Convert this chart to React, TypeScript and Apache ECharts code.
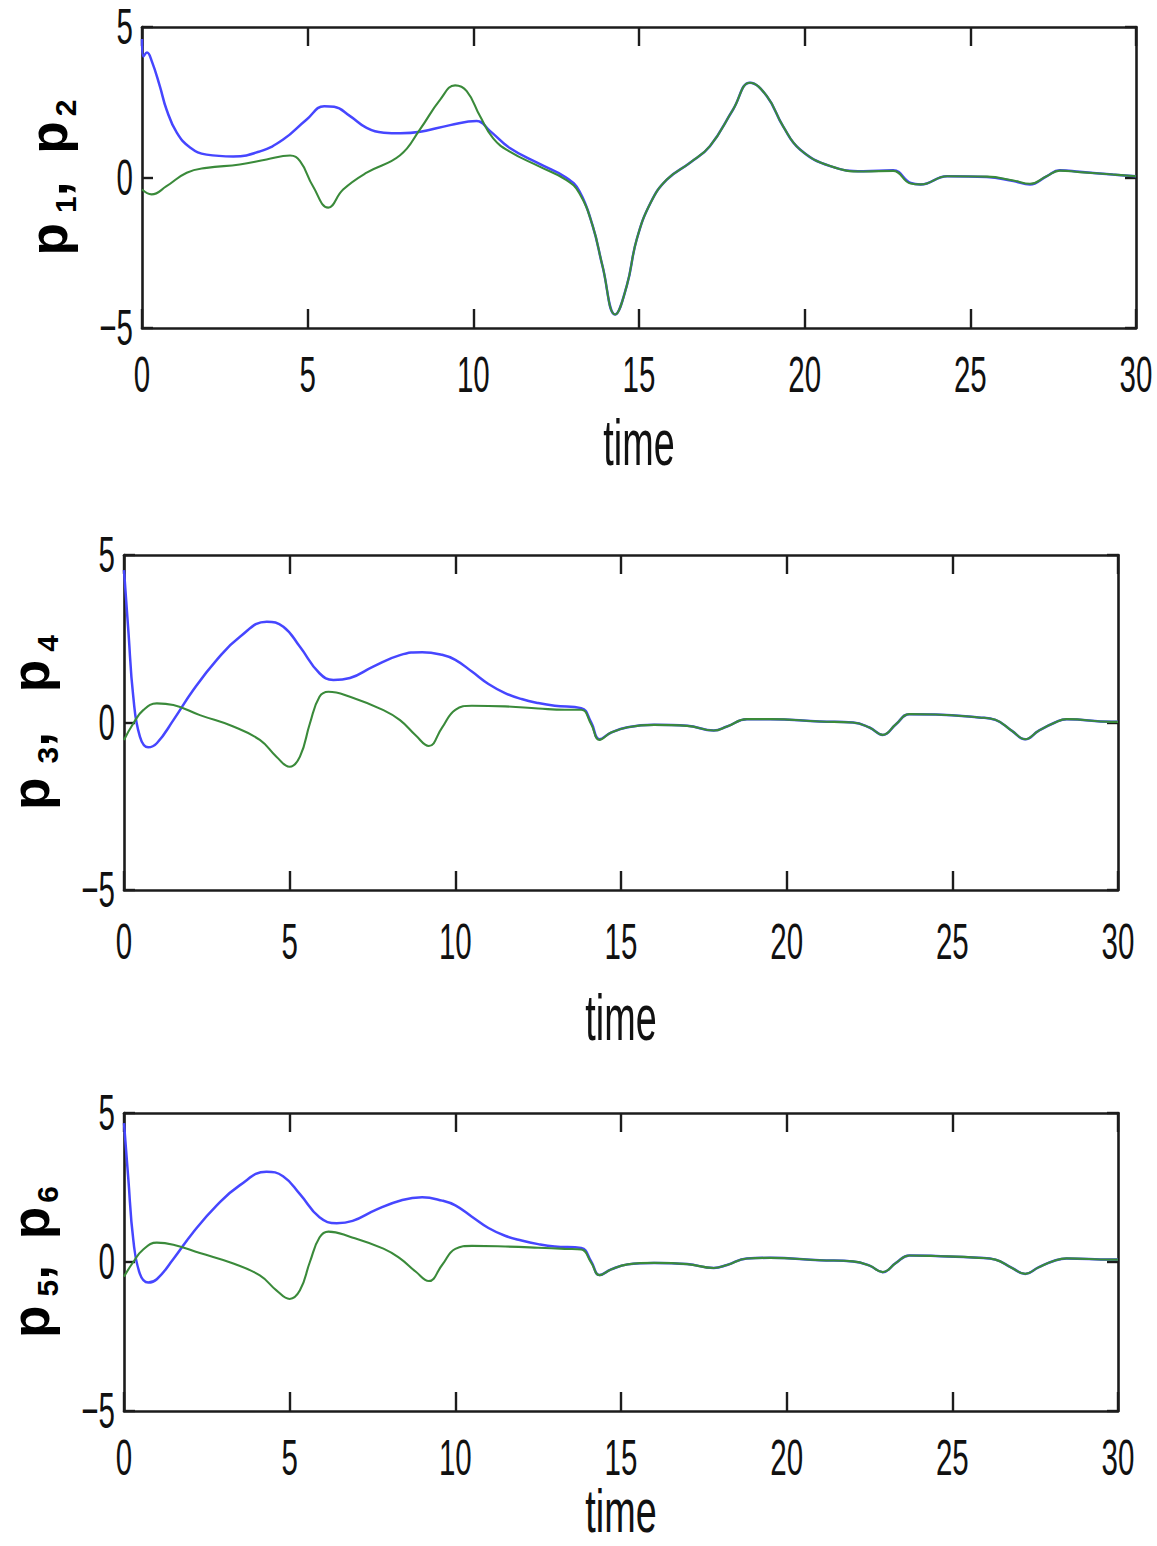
import React, { useEffect, useRef } from 'react';
import * as echarts from 'echarts';

type Pt = [number, number];

// time axis ticks: 0..30 step 5 ; value axis ticks: -5..5 step 5
const X_MIN = 0;
const X_MAX = 30;
const X_STEP = 5;
const Y_MIN = -5;
const Y_MAX = 5;
const Y_STEP = 5;
const xTickValues = [0, 5, 10, 15, 20, 25, 30];
const yTickValues = [-5, 0, 5];

const xTitle = 'time';
const yTitles = [['1', '2'], ['3', '4'], ['5', '6']];

// Panel 1
const p1: Pt[] = [
  [0, 4.6], [0.04, 4.02], [0.15, 4.15], [0.3, 3.85], [0.54, 3.03], [0.74, 2.26], [1.05, 1.49],
  [1.45, 1.0], [1.95, 0.76], [2.75, 0.7], [3.56, 0.87], [4.26, 1.26], [4.97, 1.93], [5.5, 2.37],
  [5.8, 2.35], [6.28, 2.04], [6.78, 1.65], [7.3, 1.49], [7.8, 1.47], [8.4, 1.52], [9.3, 1.74],
  [10.1, 1.88], [10.5, 1.55], [11.1, 0.98], [12.0, 0.45], [12.8, 0.0], [13.2, -0.45], [13.6, -1.6],
  [13.9, -2.95], [14.28, -4.55], [14.63, -3.6], [14.93, -2.06], [15.35, -0.84], [15.84, -0.07],
  [16.54, 0.49], [17.14, 1.04], [17.84, 2.26], [18.35, 3.15], [18.86, 2.7], [19.35, 1.7],
  [19.86, 0.93], [20.77, 0.38], [21.77, 0.21], [22.67, 0.24], [23.2, -0.18], [23.5, -0.23],
  [24.3, 0.04], [25.5, 0.02], [26.3, -0.12], [26.8, -0.23], [27.3, 0.04], [27.7, 0.24],
  [28.3, 0.19], [29.3, 0.1], [30, 0.04],
];
const p2: Pt[] = [
  [0, -0.4], [0.29, -0.56], [0.74, -0.29], [1.35, 0.16], [1.95, 0.32], [2.95, 0.43], [3.76, 0.6],
  [4.47, 0.73], [4.77, 0.54], [5.16, -0.29], [5.62, -1.0], [6.07, -0.4], [6.78, 0.16], [7.79, 0.74],
  [8.39, 1.6], [9.0, 2.59], [9.45, 3.06], [9.8, 2.87], [10.2, 2.04], [10.6, 1.3], [11.1, 0.86],
  [12.0, 0.36], [12.8, -0.08], [13.2, -0.52], [13.6, -1.6], [13.9, -2.95], [14.28, -4.55],
  [14.63, -3.6], [14.93, -2.06], [15.35, -0.84], [15.84, -0.07], [16.54, 0.49], [17.14, 1.04],
  [17.84, 2.26], [18.35, 3.15], [18.86, 2.7], [19.35, 1.7], [19.86, 0.93], [20.77, 0.38],
  [21.77, 0.2], [22.67, 0.22], [23.2, -0.2], [23.5, -0.23], [24.3, 0.04], [25.5, 0.03],
  [26.3, -0.1], [26.8, -0.21], [27.3, 0.04], [27.7, 0.23], [28.3, 0.18], [29.3, 0.1], [30, 0.04],
];

// Panel 2
const p3: Pt[] = [
  [0, 4.55], [0.13, 2.76], [0.28, 0.77], [0.48, -0.42], [0.73, -0.74], [0.99, -0.62], [1.49, 0.07],
  [2.09, 0.97], [2.8, 1.87], [3.5, 2.56], [4.31, 3.01], [4.81, 2.86], [5.31, 2.26], [5.9, 1.47],
  [6.32, 1.27], [6.82, 1.33], [7.52, 1.67], [8.33, 2.01], [9.0, 2.1], [9.6, 2.02], [10.0, 1.87],
  [10.5, 1.52], [11.0, 1.15], [11.5, 0.88], [12.0, 0.7], [12.5, 0.58], [13.0, 0.5], [13.8, 0.43],
  [14.1, 0.0], [14.35, -0.5], [14.7, -0.3], [15.2, -0.14], [16.0, -0.07], [17.0, -0.1],
  [17.8, -0.24], [18.2, -0.12], [18.8, 0.1], [19.5, 0.1], [21.0, 0.03], [22.0, 0.0],
  [22.5, -0.15], [22.9, -0.37], [23.3, -0.05], [23.7, 0.25], [24.5, 0.24], [25.8, 0.15],
  [26.3, 0.08], [26.8, -0.25], [27.2, -0.5], [27.6, -0.25], [28.1, 0.0], [28.45, 0.1],
  [29.8, 0.02], [30, 0.02],
];
const p4: Pt[] = [
  [0, -0.52], [0.28, -0.03], [0.58, 0.37], [0.99, 0.57], [1.49, 0.52], [2.29, 0.22], [3.3, -0.12],
  [4.1, -0.52], [4.6, -1.02], [5.0, -1.32], [5.31, -1.02], [5.61, -0.03], [5.9, 0.77], [6.17, 0.92],
  [6.82, 0.77], [7.83, 0.37], [8.33, 0.07], [8.8, -0.38], [9.2, -0.7], [9.6, -0.15], [10.0, 0.38],
  [10.5, 0.5], [11.5, 0.48], [12.5, 0.42], [13.3, 0.38], [13.8, 0.38], [14.1, -0.05],
  [14.35, -0.52], [14.7, -0.3], [15.2, -0.14], [16.0, -0.07], [17.0, -0.1], [17.8, -0.24],
  [18.2, -0.12], [18.8, 0.1], [19.5, 0.1], [21.0, 0.03], [22.0, 0.0], [22.5, -0.15], [22.9, -0.37],
  [23.3, -0.05], [23.7, 0.25], [24.5, 0.24], [25.8, 0.15], [26.3, 0.08], [26.8, -0.25],
  [27.2, -0.5], [27.6, -0.25], [28.1, 0.0], [28.45, 0.1], [29.8, 0.02], [30, 0.02],
];

// Panel 3
const p5: Pt[] = [
  [0, 4.66], [0.13, 2.8], [0.28, 0.75], [0.48, -0.4], [0.73, -0.69], [0.99, -0.58], [1.49, 0.1],
  [2.09, 1.0], [2.8, 1.9], [3.5, 2.58], [4.3, 3.03], [4.8, 2.88], [5.31, 2.28], [5.9, 1.5],
  [6.42, 1.3], [6.9, 1.38], [7.6, 1.75], [8.4, 2.08], [9.0, 2.17], [9.6, 2.06], [10.0, 1.9],
  [10.5, 1.52], [11.0, 1.14], [11.5, 0.88], [12.0, 0.72], [12.5, 0.6], [13.0, 0.52], [13.8, 0.47],
  [14.1, 0.02], [14.35, -0.44], [14.7, -0.25], [15.2, -0.08], [16.0, -0.03], [17.0, -0.07],
  [17.8, -0.2], [18.2, -0.1], [18.8, 0.12], [19.5, 0.14], [21.0, 0.06], [22.0, 0.02],
  [22.5, -0.12], [22.9, -0.34], [23.3, -0.03], [23.7, 0.22], [24.5, 0.2], [25.8, 0.14],
  [26.3, 0.08], [26.8, -0.2], [27.2, -0.4], [27.6, -0.18], [28.1, 0.05], [28.45, 0.12],
  [29.8, 0.08], [30, 0.08],
];
const p6: Pt[] = [
  [0, -0.49], [0.28, 0.0], [0.58, 0.42], [0.99, 0.65], [1.49, 0.58], [2.29, 0.3], [3.3, -0.05],
  [4.1, -0.45], [4.6, -0.95], [5.0, -1.24], [5.31, -0.95], [5.61, 0.0], [5.9, 0.82], [6.17, 1.02],
  [6.82, 0.85], [7.83, 0.45], [8.33, 0.12], [8.8, -0.32], [9.2, -0.64], [9.6, -0.1], [10.0, 0.44],
  [10.5, 0.54], [11.5, 0.52], [12.5, 0.48], [13.3, 0.44], [13.8, 0.42], [14.1, -0.02],
  [14.35, -0.44], [14.7, -0.25], [15.2, -0.08], [16.0, -0.03], [17.0, -0.07], [17.8, -0.2],
  [18.2, -0.1], [18.8, 0.12], [19.5, 0.14], [21.0, 0.06], [22.0, 0.02], [22.5, -0.12],
  [22.9, -0.34], [23.3, -0.03], [23.7, 0.22], [24.5, 0.2], [25.8, 0.14], [26.3, 0.08],
  [26.8, -0.2], [27.2, -0.4], [27.6, -0.18], [28.1, 0.05], [28.45, 0.12], [29.8, 0.08], [30, 0.08],
];

const panels: { blue: Pt[]; green: Pt[] }[] = [
  { blue: p1, green: p2 },
  { blue: p3, green: p4 },
  { blue: p5, green: p6 },
];

const SANS = 'Liberation Sans, Arial, Helvetica, sans-serif';
const BLUE = '#4646ff';
const GREEN = '#3a8a3a';
const FRAME = '#1c1c1c';
const SQUEEZE = 0.59;

const layout = [
  { left: 142, top: 27, width: 994, height: 301, xLab: 46.5, tLab: 114, tFont: 64, pads: [10, 28, 5] },
  { left: 124, top: 555, width: 994, height: 335, xLab: 51.5, tLab: 127, tFont: 64, pads: [14, 40, 8] },
  { left: 124, top: 1113, width: 994, height: 298, xLab: 46.5, tLab: 100, tFont: 61, pads: [9, 26, 4] },
];

export default function App() {
  const ref = useRef<HTMLDivElement>(null);
  useEffect(() => {
    if (!ref.current) return;
    const chart = echarts.init(ref.current, null, { renderer: 'svg' });

    const grids: any[] = [];
    const xAxes: any[] = [];
    const yAxes: any[] = [];
    const series: any[] = [];

    layout.forEach((L, i) => {
      grids.push({
        left: L.left, top: L.top, width: L.width, height: L.height,
        containLabel: false, outerBoundsMode: 'none', show: false,
      });
      const lineStyle = { color: FRAME, width: 2.6 };
      const tickStyle = { color: FRAME, width: 2.4 };
      xAxes.push({
        type: 'value', gridIndex: i, position: 'bottom', min: X_MIN, max: X_MAX, interval: X_STEP,
        axisLine: { show: true, onZero: false, lineStyle },
        axisTick: { show: true, inside: true, length: 19, lineStyle: tickStyle },
        axisLabel: { show: false },
        splitLine: { show: false },
      });
      xAxes.push({
        type: 'value', gridIndex: i, position: 'top', min: X_MIN, max: X_MAX, interval: X_STEP,
        axisLine: { show: true, onZero: false, lineStyle },
        axisTick: { show: true, inside: true, length: 19, lineStyle: tickStyle },
        axisLabel: { show: false },
        splitLine: { show: false },
      });
      const [s1, cp, s2] = L.pads;
      const base = { fontSize: 53, fontWeight: 'bold', fontFamily: SANS, color: '#000', lineHeight: 64, verticalAlign: 'middle' };
      const sub = { fontSize: 30, fontWeight: 'bold', fontFamily: SANS, color: '#000', lineHeight: 26, verticalAlign: 'bottom' };
      yAxes.push({
        type: 'value', gridIndex: i, position: 'left', min: Y_MIN, max: Y_MAX, interval: Y_STEP,
        axisLine: { show: true, onZero: false, lineStyle },
        axisTick: { show: true, inside: true, length: 11, lineStyle: tickStyle },
        axisLabel: { show: false },
        splitLine: { show: false },
        name: `{b|p}{s1|${yTitles[i][0]}}{c|,}{b|p}{s2|${yTitles[i][1]}}`,
        nameLocation: 'middle', nameRotate: 90, nameGap: 62, nameMoveOverlap: false,
        nameTextStyle: {
          rich: {
            b: base,
            c: { ...base, padding: [0, cp, 0, 0] },
            s1: { ...sub, padding: [0, 0, 0, s1] },
            s2: { ...sub, padding: [0, 0, 0, s2] },
          },
        },
      });
      yAxes.push({
        type: 'value', gridIndex: i, position: 'right', min: Y_MIN, max: Y_MAX, interval: Y_STEP,
        axisLine: { show: true, onZero: false, lineStyle },
        axisTick: { show: true, inside: true, length: 11, lineStyle: tickStyle },
        axisLabel: { show: false },
        splitLine: { show: false },
      });

      const common = {
        type: 'line', xAxisIndex: 2 * i, yAxisIndex: 2 * i, showSymbol: false, symbol: 'none',
        smooth: 0.45, clip: true, silent: true,
      };
      series.push({ ...common, name: `p${2 * i + 1}`, data: panels[i].blue, lineStyle: { color: BLUE, width: 2.5 }, z: 2 });
      series.push({ ...common, name: `p${2 * i + 2}`, data: panels[i].green, lineStyle: { color: GREEN, width: 2.1 }, z: 3 });
    });

    chart.setOption({
      animation: false,
      backgroundColor: '#ffffff',
      grid: grids,
      xAxis: xAxes,
      yAxis: yAxes,
      series,
    });

    // tick labels and x titles, placed through the axes' own scales
    const graphics: any[] = [];
    const txt = (text: string, x: number, y: number, fontSize: number, align: string, lh: number, sx: number) => ({
      type: 'text', x, y, scaleX: sx, scaleY: 1, silent: true, z: 10,
      style: {
        text, fontSize, lineHeight: lh, fontFamily: SANS, fill: '#111',
        align, textAlign: align, verticalAlign: 'middle', textVerticalAlign: 'middle',
      },
    });
    layout.forEach((L, i) => {
      const finder = { xAxisIndex: 2 * i, yAxisIndex: 2 * i };
      xTickValues.forEach((v) => {
        const [px, py] = chart.convertToPixel(finder, [v, Y_MIN]) as number[];
        graphics.push(txt(String(v), px, py + L.xLab, 50, 'center', 44, SQUEEZE));
      });
      yTickValues.forEach((v) => {
        const [px, py] = chart.convertToPixel(finder, [X_MIN, v]) as number[];
        graphics.push(txt(String(v).replace('-', '\u2212'), px - 9, py, 50, 'right', 44, SQUEEZE));
      });
      const [cx, cy] = chart.convertToPixel(finder, [(X_MIN + X_MAX) / 2, Y_MIN]) as number[];
      graphics.push(txt(xTitle, cx, cy + L.tLab, L.tFont, 'center', 46, SQUEEZE * 64 / L.tFont));
    });
    chart.setOption({ graphic: graphics });

    return () => chart.dispose();
  }, []);
  return <div ref={ref} style={{ position: 'absolute', left: 0, top: 0, width: 1157, height: 1546 }} />;
}
